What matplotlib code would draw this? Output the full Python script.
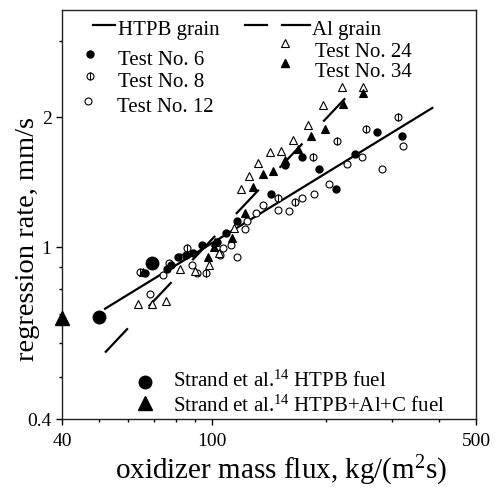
import matplotlib
matplotlib.use('Agg')
import matplotlib.pyplot as plt
from matplotlib.ticker import FixedLocator, FixedFormatter, NullFormatter

plt.rcParams['font.family'] = ['Liberation Serif', 'DejaVu Serif']
plt.rcParams['mathtext.fontset'] = 'custom'
plt.rcParams['mathtext.rm'] = 'Liberation Serif'
plt.rcParams['mathtext.it'] = 'Liberation Serif:italic'

# ---------------- data ----------------
# Test No. 6 (HTPB grain), filled circles
t6_flux = [143, 116.5, 109, 103, 94, 89, 85, 81, 78, 76, 66.4, 173, 192, 213, 239, 274, 319, 156]
t6_rate = [1.33, 1.15, 1.08, 1.03, 1.01, 0.97, 0.96, 0.95, 0.91, 0.89, 0.87, 1.62, 1.52, 1.36, 1.64, 1.85, 1.81, 1.55]
# Test No. 8 (HTPB grain), circle with bar
t8_flux = [310, 256, 214, 185, 166, 149, 96, 86, 64.4]
t8_rate = [2.00, 1.88, 1.76, 1.62, 1.27, 1.30, 0.87, 0.995, 0.875]
# Test No. 12 (HTPB grain), open circles
t12_flux = [321, 250, 227, 282, 204, 186, 173, 160, 149, 136.5, 131, 124, 122, 116.5, 112, 107, 105, 91, 88.5, 82, 77, 74, 68.5]
t12_rate = [1.71, 1.62, 1.56, 1.52, 1.40, 1.33, 1.30, 1.21, 1.22, 1.25, 1.20, 1.15, 1.10, 0.95, 1.01, 0.995, 0.96, 0.87, 0.91, 0.95, 0.92, 0.86, 0.78]
# Test No. 24 (Al grain), open triangles
t24_flux = [221, 251, 197, 179, 164, 152, 142, 132, 125, 119, 114, 104, 98, 90, 82, 75.5, 69.3, 63.6]
t24_rate = [2.35, 2.35, 2.13, 1.92, 1.77, 1.67, 1.66, 1.57, 1.46, 1.36, 1.11, 0.97, 0.91, 0.88, 0.89, 0.75, 0.74, 0.74]
# Test No. 34 (Al grain), filled triangles
t34_flux = [222, 251, 199, 183, 169, 156, 145, 136.5, 128, 122, 113, 102, 101, 97.6, 65.6]
t34_rate = [2.14, 2.27, 1.88, 1.81, 1.69, 1.59, 1.50, 1.48, 1.38, 1.20, 1.05, 1.03, 1.00, 0.95, 0.875]
# Strand et al. reference data
strand_htpb_flux = [50, 69.3]
strand_htpb_rate = [0.69, 0.918]
strand_al_flux = [40]
strand_al_rate = [0.685]
# Fitted lines
htpb_fit_flux = [52, 383]
htpb_fit_rate = [0.72, 2.10]
al_fit_flux = [52, 225]
al_fit_rate = [0.57, 2.21]

x_major = [40, 100, 500]
x_major_labels = ['40', '100', '500']
x_minor = [50, 60, 70, 80, 90, 200, 300, 400]
y_major = [0.4, 1, 2]
y_major_labels = ['0.4', '1', '2']
y_minor = [0.5, 0.6, 0.7, 0.8, 0.9, 3]

# ---------------- figure ----------------
fig = plt.figure(figsize=(5.01, 4.92), dpi=100)
L, R, T, B = 62, 476, 10, 419
W, H = 501, 492
ax = fig.add_axes([L / W, (H - B) / H, (R - L) / W, (B - T) / H])
ax.set_xscale('log')
ax.set_yscale('log')
ax.set_xlim(40, 500)
ax.set_ylim(0.4, 3.54)

lw = 1.6
ax.plot(htpb_fit_flux, htpb_fit_rate, color='black', lw=lw, zorder=2)
ax.plot(al_fit_flux, al_fit_rate, color='black', lw=lw, dashes=(15, 13.6), zorder=2)

ms_s = 5
ms_t = 6
mew = 0.8
ax.plot(t12_flux, t12_rate, 'o', ms=ms_s, mfc='white', mec='black', mew=mew, zorder=3)
ax.plot(t8_flux, t8_rate, 'o', ms=ms_s, mfc='white', mec='black', mew=mew, zorder=3)
ax.plot(t8_flux, t8_rate, '|', ms=ms_s + 1, mec='black', mew=mew, zorder=3)
ax.plot(t24_flux, t24_rate, '^', ms=ms_t, mfc='white', mec='black', mew=mew, zorder=3)
ax.plot(t34_flux, t34_rate, '^', ms=ms_t, mfc='black', mec='black', mew=mew, zorder=4)
ax.plot(t6_flux, t6_rate, 'o', ms=ms_s, mfc='black', mec='black', zorder=4)
ax.plot(strand_htpb_flux, strand_htpb_rate, 'o', ms=9, color='black', zorder=5)
ax.plot(strand_al_flux, strand_al_rate, '^', ms=10, color='black', zorder=5, clip_on=False)

# ticks
ax.xaxis.set_major_locator(FixedLocator(x_major))
ax.xaxis.set_major_formatter(FixedFormatter(x_major_labels))
ax.xaxis.set_minor_locator(FixedLocator(x_minor))
ax.xaxis.set_minor_formatter(NullFormatter())
ax.yaxis.set_major_locator(FixedLocator(y_major))
ax.yaxis.set_major_formatter(FixedFormatter(y_major_labels))
ax.yaxis.set_minor_locator(FixedLocator(y_minor))
ax.yaxis.set_minor_formatter(NullFormatter())
ax.tick_params(which='major', direction='out', length=4, width=1, labelsize=14, pad=3.5)
ax.tick_params(which='minor', direction='out', length=2.5, width=1)
ax.tick_params(axis='x', which='major', pad=6)
for s in ax.spines.values():
    s.set_linewidth(1.0)
    s.set_color('#222222')

ax.set_xlabel('oxidizer mass flux, kg/(m$^{\\mathrm{2}}$s)', fontsize=21)
ax.set_ylabel('regression rate, mm/s', fontsize=20.5)
ax.xaxis.set_label_coords(0.53, -0.085)
ax.yaxis.set_label_coords(-0.052, 0.44)

# ---------------- legend (manual) ----------------
def fx(px):
    return (px - L) / (R - L)

def fy(py):
    return (B - py) / (B - T)

tr = ax.transAxes
fs = 15
ax.plot([fx(93), fx(115)], [fy(25), fy(25)], color='black', lw=lw, transform=tr, clip_on=False)
ax.text(fx(118), fy(35), 'HTPB grain', fontsize=fs, transform=tr, va='baseline')
ax.plot([fx(90)], [fy(54)], 'o', ms=ms_s, color='black', transform=tr, clip_on=False)
ax.text(fx(118), fy(65), 'Test No. 6', fontsize=fs, transform=tr, va='baseline')
ax.plot([fx(90)], [fy(76)], 'o', ms=ms_s, mfc='white', mec='black', mew=mew, transform=tr, clip_on=False)
ax.plot([fx(90)], [fy(76)], '|', ms=ms_s + 1, mec='black', mew=mew, transform=tr, clip_on=False)
ax.text(fx(118), fy(87), 'Test No. 8', fontsize=fs, transform=tr, va='baseline')
ax.plot([fx(88)], [fy(101)], 'o', ms=ms_s, mfc='white', mec='black', mew=mew, transform=tr, clip_on=False)
ax.text(fx(117), fy(112), 'Test No. 12', fontsize=fs, transform=tr, va='baseline')

ax.plot([fx(245), fx(267)], [fy(25), fy(25)], color='black', lw=lw, transform=tr, clip_on=False)
ax.plot([fx(282), fx(310)], [fy(25), fy(25)], color='black', lw=lw, transform=tr, clip_on=False)
ax.text(fx(312), fy(35), 'Al grain', fontsize=fs, transform=tr, va='baseline')
ax.plot([fx(285)], [fy(43)], '^', ms=ms_t, mfc='white', mec='black', mew=mew, transform=tr, clip_on=False)
ax.text(fx(315), fy(57), 'Test No. 24', fontsize=fs, transform=tr, va='baseline')
ax.plot([fx(285)], [fy(63)], '^', ms=ms_t, color='black', transform=tr, clip_on=False)
ax.text(fx(315), fy(77), 'Test No. 34', fontsize=fs, transform=tr, va='baseline')

ax.plot([fx(145)], [fy(382)], 'o', ms=9, color='black', transform=tr)
ax.text(fx(173), fy(387), 'Strand et al.$^{\\mathrm{14}}$ HTPB fuel', fontsize=fs, transform=tr, va='baseline')
ax.plot([fx(145)], [fy(403)], '^', ms=10, color='black', transform=tr)
ax.text(fx(173), fy(412), 'Strand et al.$^{\\mathrm{14}}$ HTPB+Al+C fuel', fontsize=fs, transform=tr, va='baseline')

fig.savefig('out.png', dpi=100)
